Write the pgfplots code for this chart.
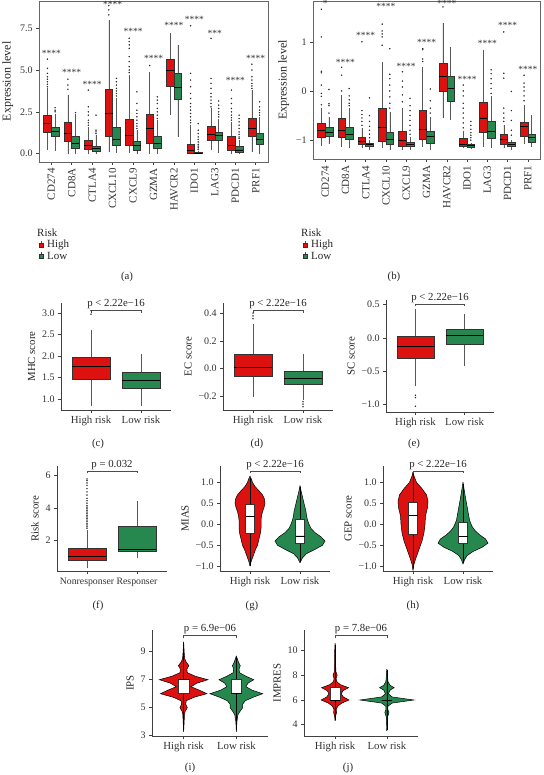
\documentclass[border=0pt]{standalone}
\usepackage{fontspec}
\setmainfont{Liberation Serif}
\usepackage{pgfplots}
\pgfplotsset{compat=1.18}
\usepgfplotslibrary{statistics}
\usepackage{pgfplotstable}
\definecolor{HighRed}{RGB}{222,17,17}
\definecolor{LowGreen}{RGB}{38,136,78}

\newcommand\bxp[9]{\addplot[boxplot prepared={draw direction=y, draw position=#1, box extend=#2, lower whisker=#4, lower quartile=#5, median=#6, upper quartile=#7, upper whisker=#8, whisker extend=0}, fill=#3, draw=black!80, line width=0.45pt, mark=*, mark size=0.6pt, mark options={fill=black!85, draw=black!85, line width=0.2pt}] coordinates {#9};}

\pgfplotsset{
  base/.style={scale only axis, clip=false, tick align=outside, major tick length=2.8pt,
    tick style={black!75, line width=0.5pt}, axis line style={black!75, line width=0.6pt},
    ticklabel style={font=\fontsize{10}{11}\selectfont, text=black!80},
    label style={font=\fontsize{10.8}{12}\selectfont, text=black!85},
    boxplot/draw direction=y,
    boxplot/every whisker/.style={black!65, line width=0.5pt},
    boxplot/every median/.style={black, line width=0.9pt},
    xmin=0.4, xmax=2.6, xtick={1,2}, xticklabels={High risk, Low risk},
    xticklabel style={font=\fontsize{10.8}{12}\selectfont}},
  classic/.style={base, axis x line*=bottom, axis y line*=left},
  framed/.style={base, tick pos=left, axis line style={black!60, line width=0.6pt}},
  viol/.style={classic, boxplot/every whisker/.style={black, line width=0.5pt}},
}
\newcommand\pfont{\fontsize{10.8}{12}\selectfont}

\pgfplotstableread{
y w
-1.00 0
-0.90 0.02
-0.80 0.05
-0.70 0.08
-0.60 0.11
-0.50 0.15
-0.40 0.17
-0.30 0.19
-0.20 0.21
-0.10 0.22
0.00 0.22
0.10 0.22
0.20 0.23
0.30 0.25
0.40 0.28
0.50 0.30
0.60 0.29
0.70 0.25
0.80 0.18
0.90 0.10
1.00 0.05
1.10 0.02
1.15 0
}\vgH
\pgfplotstableread{
y w
-0.92 0
-0.85 0.03
-0.80 0.05
-0.70 0.13
-0.60 0.30
-0.50 0.45
-0.40 0.50
-0.30 0.42
-0.20 0.30
-0.10 0.22
0.00 0.18
0.10 0.15
0.20 0.13
0.30 0.12
0.40 0.10
0.50 0.08
0.60 0.06
0.70 0.04
0.80 0.02
0.92 0
}\vgL
\pgfplotstableread{
y w
-1.10 0
-0.95 0.02
-0.80 0.06
-0.60 0.12
-0.40 0.18
-0.20 0.22
0.00 0.24
0.20 0.25
0.40 0.29
0.55 0.30
0.70 0.27
0.85 0.18
1.00 0.07
1.15 0.02
1.25 0
}\vhH
\pgfplotstableread{
y w
-0.95 0
-0.85 0.03
-0.75 0.08
-0.65 0.20
-0.55 0.38
-0.45 0.50
-0.35 0.45
-0.25 0.33
-0.15 0.24
-0.05 0.18
0.10 0.13
0.30 0.10
0.50 0.07
0.70 0.04
0.85 0.02
1.00 0
}\vhL
\pgfplotstableread{
y w
3.3 0
4.0 0.01
4.5 0.015
4.75 0.03
5.0 0.07
5.25 0.04
5.5 0.05
5.75 0.2
6.0 0.44
6.25 0.3
6.5 0.14
6.75 0.25
7.0 0.46
7.25 0.22
7.5 0.07
7.75 0.06
8.0 0.1
8.25 0.05
8.5 0.02
9.0 0.01
9.7 0
}\viH
\pgfplotstableread{
y w
3.3 0
4.0 0.01
4.5 0.03
4.75 0.07
5.0 0.12
5.25 0.12
5.5 0.17
5.75 0.32
6.0 0.5
6.25 0.3
6.5 0.18
6.75 0.22
7.0 0.33
7.25 0.18
7.5 0.06
7.75 0.05
8.0 0.075
8.25 0.04
8.7 0
}\viL
\pgfplotstableread{
y w
4.3 0
4.7 0.01
5.0 0.03
5.2 0.02
5.5 0.05
5.75 0.13
6.0 0.27
6.25 0.16
6.5 0.12
6.75 0.15
7.0 0.26
7.25 0.1
7.5 0.03
7.75 0.02
8.0 0.04
8.3 0.015
9.0 0.01
10.0 0.008
10.6 0
}\vjH
\pgfplotstableread{
y w
3.5 0
4.2 0.005
4.6 0.01
4.85 0.03
5.0 0.04
5.2 0.02
5.5 0.02
5.75 0.1
6.0 0.52
6.25 0.1
6.5 0.03
6.8 0.06
7.0 0.14
7.2 0.06
7.5 0.02
8.0 0.01
8.5 0
}\vjL

\begin{document}
\begin{tikzpicture}[every node/.style={text=black!85}]
\path[use as bounding box] (0pt,0pt) rectangle (543pt,775pt);

% ---------------- (a)
\begin{axis}[framed, at={(39pt,613pt)}, anchor=south west, width=229pt, height=161pt,
  xmin=0.4, xmax=11.6, ymin=-0.5, ymax=9.13,
  xtick={1,...,11}, xticklabels={CD274,CD8A,CTLA4,CXCL10,CXCL9,GZMA,HAVCR2,IDO1,LAG3,PDCD1,PRF1},
  xticklabel style={rotate=90, anchor=east, font=\fontsize{11}{12}\selectfont},
  ytick={0,2.5,5,7.5}, yticklabels={0.0,2.5,5.0,7.5},
  ylabel={Expression level}, ylabel style={font=\fontsize{12}{13}\selectfont}]
\bxp{0.8125}{0.375}{HighRed}{0.22}{1.26}{1.78}{2.32}{3.9}{(0,4.0)(0,4.15)(0,4.3)(0,4.45)(0,4.6)(0,4.8)(0,5.1)(0,5.65)}
\bxp{1.1875}{0.375}{LowGreen}{0.18}{1.02}{1.32}{1.58}{2.4}{(0,2.5)(0,2.6)(0,2.75)}
\bxp{1.8125}{0.375}{HighRed}{0.0}{0.72}{1.22}{1.88}{3.5}{(0,3.85)(0,4.1)(0,4.45)}
\bxp{2.1875}{0.375}{LowGreen}{0.0}{0.32}{0.62}{1.06}{2.35}{(0,2.45)}
\bxp{2.8125}{0.375}{HighRed}{0.0}{0.28}{0.48}{0.82}{1.6}{(0,1.7)(0,1.85)(0,2.0)(0,2.3)(0,2.5)(0,2.8)(0,3.8)}
\bxp{3.1875}{0.375}{LowGreen}{0.0}{0.12}{0.28}{0.46}{1.1}{(0,1.2)(0,1.3)(0,1.4)(0,2.3)}
\bxp{3.8125}{0.375}{HighRed}{0.1}{1.06}{2.38}{3.85}{8.0}{(0,8.3)(0,8.6)(0,8.85)}
\bxp{4.1875}{0.375}{LowGreen}{0.05}{0.48}{0.82}{1.58}{3.3}{(0,3.45)(0,3.6)(0,3.75)(0,3.9)(0,4.1)(0,4.3)(0,4.5)}
\bxp{4.8125}{0.375}{HighRed}{0.02}{0.48}{1.06}{2.08}{4.7}{(0,4.85)(0,5.0)(0,5.2)(0,5.5)(0,5.8)(0,6.3)(0,6.5)(0,6.7)(0,6.9)}
\bxp{5.1875}{0.375}{LowGreen}{0.0}{0.22}{0.46}{0.74}{1.4}{(0,1.5)(0,1.65)(0,1.8)(0,2.0)(0,2.2)(0,2.4)(0,2.6)(0,3.0)(0,3.7)}
\bxp{5.8125}{0.375}{HighRed}{0.0}{0.62}{1.48}{2.38}{4.9}{(0,5.27)}
\bxp{6.1875}{0.375}{LowGreen}{0.0}{0.32}{0.62}{1.02}{2.0}{(0,2.1)(0,2.3)(0,2.5)(0,2.7)(0,3.0)(0,3.2)(0,3.4)}
\bxp{6.8125}{0.375}{HighRed}{2.32}{4.05}{4.95}{5.65}{7.2}{}
\bxp{7.1875}{0.375}{LowGreen}{1.02}{3.25}{3.97}{4.81}{6.5}{}
\bxp{7.8125}{0.375}{HighRed}{0.0}{0.02}{0.18}{0.58}{1.72}{(0,1.85)(0,2.0)(0,2.2)(0,2.4)(0,2.6)(0,2.8)(0,3.0)(0,3.3)(0,3.6)(0,4.0)(0,4.4)(0,4.8)(0,7.65)}
\bxp{8.1875}{0.375}{LowGreen}{0.0}{0.0}{0.03}{0.06}{0.18}{(0,0.25)(0,0.35)(0,0.45)(0,0.55)(0,0.7)(0,0.85)(0,1.0)(0,1.2)(0,1.4)(0,1.8)}
\bxp{8.8125}{0.375}{HighRed}{0.22}{0.82}{1.16}{1.66}{2.7}{(0,2.8)(0,3.0)(0,3.2)(0,3.4)(0,3.6)(0,3.9)(0,4.2)(0,4.5)(0,6.9)}
\bxp{9.1875}{0.375}{LowGreen}{0.06}{0.78}{1.06}{1.26}{2.1}{(0,2.2)(0,2.35)(0,2.5)(0,2.7)(0,2.9)(0,3.15)}
\bxp{9.8125}{0.375}{HighRed}{0.0}{0.22}{0.48}{1.02}{1.92}{(0,2.0)(0,2.15)(0,2.3)(0,2.5)(0,2.7)(0,3.0)(0,3.3)(0,3.8)}
\bxp{10.1875}{0.375}{LowGreen}{0.0}{0.1}{0.22}{0.42}{0.82}{(0,0.9)(0,1.0)(0,1.15)(0,1.3)(0,1.5)(0,1.7)(0,1.9)(0,2.1)(0,2.3)}
\bxp{10.8125}{0.375}{HighRed}{0.12}{1.02}{1.52}{2.12}{3.8}{(0,3.9)(0,4.05)(0,4.2)(0,4.4)(0,4.6)(0,5.0)(0,5.35)}
\bxp{11.1875}{0.375}{LowGreen}{0.0}{0.58}{0.82}{1.22}{2.2}{(0,2.3)(0,2.45)(0,2.6)(0,2.8)(0,3.1)}
\begin{scope}[every node/.style={font=\fontsize{9.5}{10}\selectfont, text=black!80, inner sep=0pt}]
\node at (axis cs:1,6.0) {****};
\node at (axis cs:2,4.85) {****};
\node at (axis cs:3,4.15) {****};
\node at (axis cs:4,8.95) {****};
\node at (axis cs:5,7.3) {****};
\node at (axis cs:6,5.7) {****};
\node at (axis cs:7,7.65) {****};
\node at (axis cs:8,8.0) {****};
\node at (axis cs:9,7.2) {***};
\node at (axis cs:10,4.4) {****};
\node at (axis cs:11,5.7) {****};
\end{scope}
\end{axis}

% ---------------- (b)
\begin{axis}[framed, at={(313pt,615.7pt)}, anchor=south west, width=227pt, height=158.3pt,
  xmin=0.4, xmax=11.6, ymin=-1.39, ymax=1.83,
  xtick={1,...,11}, xticklabels={CD274,CD8A,CTLA4,CXCL10,CXCL9,GZMA,HAVCR2,IDO1,LAG3,PDCD1,PRF1},
  xticklabel style={rotate=90, anchor=east, font=\fontsize{11}{12}\selectfont},
  ytick={-1,0,1}, yticklabels={−1,0,1},
  ylabel={Expression level}, ylabel style={font=\fontsize{12}{13}\selectfont}]
\bxp{0.8125}{0.375}{HighRed}{-1.12}{-0.94}{-0.81}{-0.66}{-0.35}{(0,-0.28)(0,-0.11)(0,-0.05)(0,0.12)(0,0.37)(0,0.40)(0,1.1)(0,1.66)}
\bxp{1.1875}{0.375}{LowGreen}{-1.08}{-0.93}{-0.84}{-0.74}{-0.52}{(0,-0.45)(0,-0.3)(0,-0.26)(0,0.03)}
\bxp{1.8125}{0.375}{HighRed}{-1.13}{-0.94}{-0.81}{-0.55}{-0.08}{(0,0.0)(0,0.32)(0,0.48)}
\bxp{2.1875}{0.375}{LowGreen}{-1.16}{-0.99}{-0.89}{-0.74}{-0.35}{(0,-0.3)(0,-0.25)(0,-0.18)(0,-0.1)(0,0.05)}
\bxp{2.8125}{0.375}{HighRed}{-1.16}{-1.09}{-1.03}{-0.94}{-0.76}{(0,-0.7)(0,-0.62)(0,-0.55)(0,-0.48)(0,-0.4)(0,1.0)}
\bxp{3.1875}{0.375}{LowGreen}{-1.2}{-1.13}{-1.09}{-1.06}{-0.99}{(0,-0.95)(0,-0.88)(0,-0.8)(0,-0.72)(0,-0.62)(0,-0.5)(0,-0.14)}
\bxp{3.8125}{0.375}{HighRed}{-1.16}{-1.03}{-0.74}{-0.35}{0.59}{(0,0.93)(0,1.1)(0,1.16)(0,1.22)(0,1.36)}
\bxp{4.1875}{0.375}{LowGreen}{-1.21}{-1.09}{-0.99}{-0.84}{-0.42}{(0,-0.35)(0,-0.25)(0,-0.12)(0,0.0)(0,0.12)(0,0.25)(0,0.34)(0,0.86)}
\bxp{4.8125}{0.375}{HighRed}{-1.2}{-1.12}{-1.0}{-0.81}{-0.35}{(0,-0.22)(0,-0.08)(0,0.08)(0,0.2)(0,0.39)}
\bxp{5.1875}{0.375}{LowGreen}{-1.2}{-1.13}{-1.08}{-1.04}{-0.93}{(0,-0.88)(0,-0.8)(0,-0.7)(0,-0.6)(0,-0.5)(0,-0.4)(0,-0.3)(0,-0.15)}
\bxp{5.8125}{0.375}{HighRed}{-1.14}{-0.98}{-0.78}{-0.39}{0.49}{(0,0.6)(0,0.65)(0,0.84)(0,0.86)}
\bxp{6.1875}{0.375}{LowGreen}{-1.2}{-1.06}{-0.93}{-0.81}{-0.52}{(0,-0.45)(0,-0.35)(0,-0.2)(0,0.04)}
\bxp{6.8125}{0.375}{HighRed}{-0.55}{-0.01}{0.3}{0.57}{1.39}{(0,1.71)}
\bxp{7.1875}{0.375}{LowGreen}{-0.59}{-0.2}{0.05}{0.29}{0.9}{}
\bxp{7.8125}{0.375}{HighRed}{-1.16}{-1.13}{-1.08}{-0.97}{-0.82}{(0,-0.75)(0,-0.65)(0,-0.55)(0,-0.45)(0,-0.35)(0,-0.25)(0,-0.1)(0,0.0)(0,0.12)}
\bxp{8.1875}{0.375}{LowGreen}{-1.18}{-1.14}{-1.11}{-1.09}{-1.06}{(0,-1.0)(0,-0.95)(0,-0.9)(0,-0.85)(0,-0.78)(0,-0.7)(0,-0.62)}
\bxp{8.8125}{0.375}{HighRed}{-1.13}{-0.84}{-0.55}{-0.22}{0.84}{}
\bxp{9.1875}{0.375}{LowGreen}{-1.16}{-0.96}{-0.82}{-0.62}{-0.11}{(0,-0.05)(0,0.05)(0,0.15)(0,0.25)(0,0.35)(0,0.43)}
\bxp{9.8125}{0.375}{HighRed}{-1.16}{-1.09}{-0.99}{-0.89}{-0.69}{(0,-0.62)(0,-0.55)(0,-0.45)(0,-0.35)(0,0.26)(0,0.36)(0,1.2)}
\bxp{10.1875}{0.375}{LowGreen}{-1.2}{-1.13}{-1.09}{-1.05}{-0.99}{(0,-0.9)(0,-0.8)(0,-0.6)(0,-0.4)(0,-0.01)}
\bxp{10.8125}{0.375}{HighRed}{-1.07}{-0.93}{-0.72}{-0.64}{-0.28}{(0,-0.2)(0,-0.1)(0,0.0)(0,0.08)(0,0.16)(0,0.32)}
\bxp{11.1875}{0.375}{LowGreen}{-1.13}{-1.05}{-0.94}{-0.88}{-0.49}{}
\begin{scope}[every node/.style={font=\fontsize{9.5}{10}\selectfont, text=black!80, inner sep=0pt}]
\node at (axis cs:1,1.78) {*};
\node at (axis cs:2,0.58) {****};
\node at (axis cs:3,1.13) {****};
\node at (axis cs:4,1.71) {****};
\node at (axis cs:5,0.49) {****};
\node at (axis cs:6,0.98) {****};
\node at (axis cs:7,1.78) {****};
\node at (axis cs:8,0.24) {****};
\node at (axis cs:9,0.97) {****};
\node at (axis cs:10,1.34) {****};
\node at (axis cs:11,0.43) {****};
\end{scope}
\end{axis}

% legends and labels for (a),(b)
\begin{scope}[every node/.style={font=\fontsize{11}{12}\selectfont, text=black!85, anchor=west, inner sep=0pt}]
\node at (37pt,542pt) {Risk};
\draw[black!70, line width=0.4pt] (41pt,526.5pt) -- (41pt,533.5pt);
\draw[black!80, fill=HighRed, line width=0.4pt] (38.8pt,528pt) rectangle (43.2pt,532pt);
\node at (47pt,530pt) {High};
\draw[black!70, line width=0.4pt] (41pt,515.5pt) -- (41pt,522.5pt);
\draw[black!80, fill=LowGreen, line width=0.4pt] (38.8pt,517pt) rectangle (43.2pt,521pt);
\node at (47pt,519pt) {Low};
\node at (301pt,542pt) {Risk};
\draw[black!70, line width=0.4pt] (305pt,526.5pt) -- (305pt,533.5pt);
\draw[black!80, fill=HighRed, line width=0.4pt] (302.8pt,528pt) rectangle (307.2pt,532pt);
\node at (311pt,530pt) {High};
\draw[black!70, line width=0.4pt] (305pt,515.5pt) -- (305pt,522.5pt);
\draw[black!80, fill=LowGreen, line width=0.4pt] (302.8pt,517pt) rectangle (307.2pt,521pt);
\node at (311pt,519pt) {Low};
\end{scope}
\begin{scope}[every node/.style={font=\pfont, text=black!85}]
\node at (127pt,498pt) {(a)};
\node at (394pt,498pt) {(b)};
\node at (98pt,331pt) {(c)};
\node at (257pt,331pt) {(d)};
\node at (414pt,331pt) {(e)};
\node at (98pt,169pt) {(f)};
\node at (252pt,169pt) {(g)};
\node at (413pt,169pt) {(h)};
\node at (190pt,7pt) {(i)};
\node at (348pt,7pt) {(j)};
\end{scope}

% ---------------- (c)
\begin{axis}[classic, at={(61pt,365pt)}, anchor=south west, width=110pt, height=107pt,
  ymin=0.744, ymax=3.23, ytick={1,1.5,2,2.5,3}, yticklabels={1.0,1.5,2.0,2.5,3.0}, ylabel={MHC score}]
\bxp{1}{0.75}{HighRed}{0.84}{1.47}{1.75}{1.98}{2.6}{(0,2.97)(0,3.05)}
\bxp{2}{0.75}{LowGreen}{0.84}{1.25}{1.43}{1.62}{2.05}{}
\draw[black!70, line width=0.5pt] (axis cs:1,3.0) -- (axis cs:1,3.07) -- (axis cs:2,3.07) -- (axis cs:2,3.0);
\node[anchor=south, inner sep=1pt, font=\pfont] at (axis cs:1.5,3.07) {p < 2.22e−16};
\end{axis}

% ---------------- (d)
\begin{axis}[classic, at={(223pt,365pt)}, anchor=south west, width=110pt, height=107pt,
  ymin=-0.297, ymax=0.473, ytick={-0.2,0,0.2,0.4}, yticklabels={−0.2,0.0,0.2,0.4}, ylabel={EC score}]
\bxp{1}{0.75}{HighRed}{-0.206}{-0.055}{0.012}{0.106}{0.32}{(0,0.36)(0,0.38)(0,0.40)}
\bxp{2}{0.75}{LowGreen}{-0.225}{-0.108}{-0.07}{-0.017}{0.106}{(0,-0.237)(0,-0.254)(0,-0.273)}
\draw[black!70, line width=0.5pt] (axis cs:1,0.40) -- (axis cs:1,0.42) -- (axis cs:2,0.42) -- (axis cs:2,0.40);
\node[anchor=south, inner sep=1pt, font=\pfont] at (axis cs:1.5,0.42) {p < 2.22e−16};
\end{axis}

% ---------------- (e)
\begin{axis}[classic, at={(386pt,363pt)}, anchor=south west, width=108pt, height=112pt,
  ymin=-1.11, ymax=0.565, ytick={-1,-0.5,0,0.5}, yticklabels={−1.0,−0.5,0.0,0.5}, ylabel={SC score}]
\bxp{1}{0.75}{HighRed}{-0.72}{-0.31}{-0.125}{0.025}{0.43}{(0,-0.86)(0,-0.894)(0,-1.024)}
\bxp{2}{0.75}{LowGreen}{-0.415}{-0.1}{0.04}{0.135}{0.355}{}
\draw[black!70, line width=0.5pt] (axis cs:1,0.47) -- (axis cs:1,0.505) -- (axis cs:2,0.505) -- (axis cs:2,0.47);
\node[anchor=south, inner sep=1pt, font=\pfont] at (axis cs:1.5,0.505) {p < 2.22e−16};
\end{axis}

% ---------------- (f)
\begin{axis}[classic, at={(57pt,203.3pt)}, anchor=south west, width=110pt, height=105.7pt,
  ymin=0.06, ymax=6.6, ytick={2,4,6}, yticklabels={2,4,6}, ylabel={Risk score},
  xticklabels={Nonresponser, Responser}, xticklabel style={font=\fontsize{9.8}{11}\selectfont}]
\bxp{1}{0.75}{HighRed}{0.27}{0.76}{1.03}{1.5}{2.64}{(0,2.75)(0,2.85)(0,2.95)(0,3.05)(0,3.15)(0,3.25)(0,3.35)(0,3.45)(0,3.55)(0,3.65)(0,3.75)(0,3.85)(0,3.95)(0,4.05)(0,4.15)(0,4.3)(0,4.45)(0,4.6)(0,4.8)(0,5.0)(0,5.2)(0,5.4)(0,5.55)(0,5.7)(0,5.8)}
\bxp{2}{0.75}{LowGreen}{0.89}{1.3}{1.46}{2.88}{4.43}{}
\draw[black!70, line width=0.5pt] (axis cs:1,6.15) -- (axis cs:1,6.3) -- (axis cs:2,6.3) -- (axis cs:2,6.15);
\node[anchor=south, inner sep=1pt, font=\pfont] at (axis cs:1.5,6.3) {p = 0.032};
\end{axis}

% ---------------- (g)
\begin{axis}[viol, at={(220pt,204pt)}, anchor=south west, width=110pt, height=105pt,
  ymin=-1.115, ymax=1.39, ytick={-1,-0.5,0,0.5,1}, yticklabels={−1.0,−0.5,0.0,0.5,1.0}, ylabel={MIAS}]
\addplot[fill=HighRed, draw=black, line width=0.5pt] table[x expr=1+\thisrow{w}, y=y] {\vgH};
\addplot[fill=HighRed, draw=black, line width=0.5pt] table[x expr=1-\thisrow{w}, y=y] {\vgH};
\addplot[fill=LowGreen, draw=black, line width=0.5pt] table[x expr=2+\thisrow{w}, y=y] {\vgL};
\addplot[fill=LowGreen, draw=black, line width=0.5pt] table[x expr=2-\thisrow{w}, y=y] {\vgL};
\bxp{1}{0.18}{white}{-1.0}{-0.22}{0.19}{0.48}{1.1}{}
\bxp{2}{0.18}{white}{-0.9}{-0.45}{-0.28}{0.13}{0.9}{}
\draw[black!70, line width=0.5pt] (axis cs:1,1.22) -- (axis cs:1,1.27) -- (axis cs:2,1.27) -- (axis cs:2,1.22);
\node[anchor=south, inner sep=1pt, font=\pfont] at (axis cs:1.5,1.27) {p < 2.22e−16};
\end{axis}

% ---------------- (h)
\begin{axis}[viol, at={(383pt,204pt)}, anchor=south west, width=110pt, height=105pt,
  ymin=-1.115, ymax=1.39, ytick={-1,-0.5,0,0.5,1}, yticklabels={−1.0,−0.5,0.0,0.5,1.0}, ylabel={GEP score}]
\addplot[fill=HighRed, draw=black, line width=0.5pt] table[x expr=1+\thisrow{w}, y=y] {\vhH};
\addplot[fill=HighRed, draw=black, line width=0.5pt] table[x expr=1-\thisrow{w}, y=y] {\vhH};
\addplot[fill=LowGreen, draw=black, line width=0.5pt] table[x expr=2+\thisrow{w}, y=y] {\vhL};
\addplot[fill=LowGreen, draw=black, line width=0.5pt] table[x expr=2-\thisrow{w}, y=y] {\vhL};
\bxp{1}{0.18}{white}{-1.05}{-0.24}{0.2}{0.53}{1.2}{}
\bxp{2}{0.18}{white}{-0.92}{-0.45}{-0.3}{0.05}{0.95}{}
\draw[black!70, line width=0.5pt] (axis cs:1,1.22) -- (axis cs:1,1.27) -- (axis cs:2,1.27) -- (axis cs:2,1.22);
\node[anchor=south, inner sep=1pt, font=\pfont] at (axis cs:1.5,1.27) {p < 2.22e−16};
\end{axis}

% ---------------- (i)
\begin{axis}[viol, at={(152pt,39pt)}, anchor=south west, width=116pt, height=106pt,
  ymin=2.98, ymax=10.55, ytick={3,5,7,9}, yticklabels={3,5,7,9}, ylabel={IPS}]
\addplot[fill=HighRed, draw=black, line width=0.5pt] table[x expr=1+\thisrow{w}, y=y] {\viH};
\addplot[fill=HighRed, draw=black, line width=0.5pt] table[x expr=1-\thisrow{w}, y=y] {\viH};
\addplot[fill=LowGreen, draw=black, line width=0.5pt] table[x expr=2+\thisrow{w}, y=y] {\viL};
\addplot[fill=LowGreen, draw=black, line width=0.5pt] table[x expr=2-\thisrow{w}, y=y] {\viL};
\bxp{1}{0.2}{white}{3.4}{6.0}{7.0}{7.0}{9.6}{}
\bxp{2}{0.2}{white}{3.4}{6.0}{6.0}{7.0}{8.6}{}
\draw[black!70, line width=0.5pt] (axis cs:1,9.95) -- (axis cs:1,10.19) -- (axis cs:2,10.19) -- (axis cs:2,9.95);
\node[anchor=south, inner sep=1pt, font=\pfont] at (axis cs:1.5,10.19) {p = 6.9e−06};
\end{axis}

% ---------------- (j)
\begin{axis}[viol, at={(304pt,39pt)}, anchor=south west, width=114pt, height=106pt,
  ymin=3.08, ymax=11.68, ytick={4,6,8,10}, yticklabels={4,6,8,10}, ylabel={IMPRES}]
\addplot[fill=HighRed, draw=black, line width=0.5pt] table[x expr=1+\thisrow{w}, y=y] {\vjH};
\addplot[fill=HighRed, draw=black, line width=0.5pt] table[x expr=1-\thisrow{w}, y=y] {\vjH};
\addplot[fill=LowGreen, draw=black, line width=0.5pt] table[x expr=2+\thisrow{w}, y=y] {\vjL};
\addplot[fill=LowGreen, draw=black, line width=0.5pt] table[x expr=2-\thisrow{w}, y=y] {\vjL};
\bxp{1}{0.2}{white}{4.4}{6.0}{6.0}{7.0}{10.5}{}
\bxp{2}{0.2}{white}{3.6}{6.0}{6.0}{6.0}{8.4}{}
\draw[black!70, line width=0.5pt] (axis cs:1,11.0) -- (axis cs:1,11.27) -- (axis cs:2,11.27) -- (axis cs:2,11.0);
\node[anchor=south, inner sep=1pt, font=\pfont] at (axis cs:1.5,11.27) {p = 7.8e−06};
\end{axis}
\end{tikzpicture}
\end{document}
